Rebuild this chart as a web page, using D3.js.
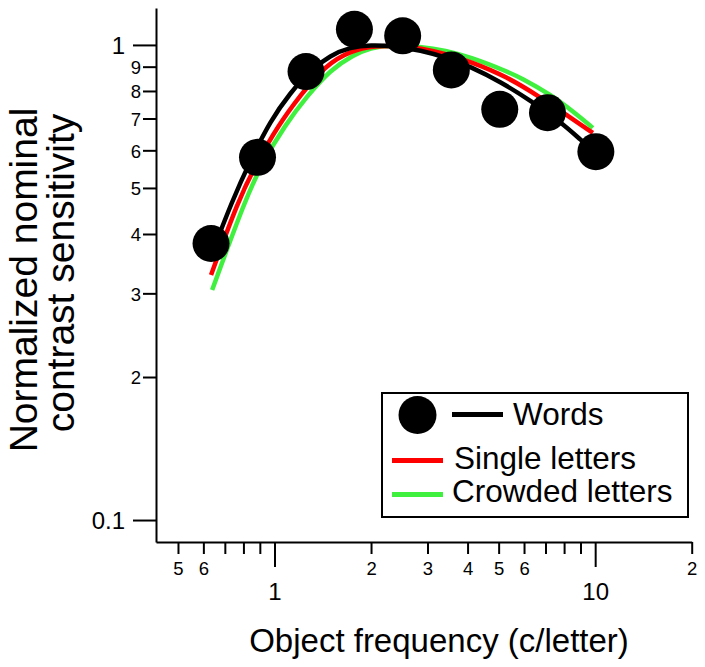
<!DOCTYPE html>
<html>
<head>
<meta charset="utf-8">
<script src="https://cdn.jsdelivr.net/npm/d3@7"></script>
<style>
body { margin: 0; background: #fff; }
text { font-family: "Liberation Sans", Arial, Helvetica, sans-serif; fill: #000; }
</style>
</head>
<body>
<svg id="chart"></svg>
<script>
var wordsX = [0.634, 0.885, 1.254, 1.775, 2.51, 3.56, 5.04, 7.10, 10.05];
var wordsY = [0.382, 0.580, 0.879, 1.079, 1.045, 0.886, 0.732, 0.720, 0.596];

var wordsFitX = [0.634, 0.738, 0.840, 0.970, 1.120, 1.293, 1.493, 1.724, 1.991, 2.384, 2.853, 3.415, 4.089, 5.074, 6.297, 7.813, 9.022, 10.05];
var wordsFitY = [0.360, 0.470, 0.570, 0.692, 0.793, 0.884, 0.951, 0.989, 1.000, 0.994, 0.974, 0.942, 0.900, 0.836, 0.763, 0.688, 0.631, 0.592];

var singleX = [0.634, 0.770, 0.877, 1.027, 1.203, 1.440, 1.724, 2.064, 2.471, 2.853, 3.415, 4.089, 5.298, 6.770, 8.216, 9.835];
var singleY = [0.328, 0.470, 0.562, 0.677, 0.783, 0.905, 0.972, 0.996, 0.996, 0.985, 0.958, 0.922, 0.858, 0.775, 0.709, 0.653];

var crowdedX = [0.639, 0.810, 0.915, 1.080, 1.265, 1.493, 1.762, 1.991, 2.299, 2.853, 3.415, 4.089, 5.298, 5.860, 7.270, 8.580, 9.835];
var crowdedY = [0.305, 0.472, 0.564, 0.679, 0.781, 0.886, 0.953, 0.986, 1.000, 0.992, 0.974, 0.942, 0.880, 0.853, 0.786, 0.722, 0.669];

var yTicks = [0.1, 0.2, 0.3, 0.4, 0.5, 0.6, 0.7, 0.8, 0.9, 1];
var yLabels = ['0.1', '2', '3', '4', '5', '6', '7', '8', '9', '1'];
var xTicks = [0.5, 0.6, 0.7, 0.8, 0.9, 1, 2, 3, 4, 5, 6, 7, 8, 9, 10, 20];
var xLabels = ['5', '6', '', '', '', '1', '2', '3', '4', '5', '6', '', '', '', '10', '2'];
var xMajor = [1, 10];
var yMajor = [0.1, 1];

var legendNames = ['Words', 'Single letters', 'Crowded letters'];
var colors = ['#000000', '#ff0000', '#3ff03f'];

var width = 705, height = 667;

var svg = d3.select('#chart')
    .attr('width', width)
    .attr('height', height);

var x = d3.scaleLog().domain([0.427, 20]).range([156, 691.7]);
var y = d3.scaleLog().domain([0.0899, 1.196]).range([542, 8]);

// x axis
var gx = svg.append('g')
    .attr('transform', 'translate(0,542)')
    .call(d3.axisBottom(x)
        .tickValues(xTicks)
        .tickSize(12)
        .tickSizeOuter(0)
        .tickFormat(function(d, i) { return xLabels[i]; }));
gx.select('.domain').attr('stroke', '#000').attr('stroke-width', 2);
gx.selectAll('.tick line').attr('stroke', '#000').attr('stroke-width', 2)
    .attr('y2', function(d) { return xMajor.includes(d) ? 25 : 12; });
gx.selectAll('.tick text')
    .attr('font-size', function(d) { return xMajor.includes(d) ? 24 : 18.5; })
    .attr('y', function(d) { return xMajor.includes(d) ? 41 : 20; })
    .attr('dy', '0.71em')
    .style('font-family', '"Liberation Sans", Arial, sans-serif');

// y axis
var gy = svg.append('g')
    .attr('transform', 'translate(156,0)')
    .call(d3.axisLeft(y)
        .tickValues(yTicks)
        .tickSize(13)
        .tickSizeOuter(0)
        .tickFormat(function(d, i) { return yLabels[i]; }));
gy.select('.domain').attr('stroke', '#000').attr('stroke-width', 2);
gy.selectAll('.tick line').attr('stroke', '#000').attr('stroke-width', 2)
    .attr('x2', function(d) { return yMajor.includes(d) ? -23 : -13; });
gy.selectAll('.tick text')
    .attr('font-size', function(d) { return yMajor.includes(d) ? 24 : 18.5; })
    .attr('x', function(d) { return yMajor.includes(d) ? -31 : -15; })
    .attr('dy', '0.36em')
    .style('font-family', '"Liberation Sans", Arial, sans-serif');

// axis titles
svg.append('text')
    .attr('x', 439)
    .attr('y', 652)
    .attr('text-anchor', 'middle')
    .attr('font-size', 33)
    .text('Object frequency (c/letter)');

svg.append('text')
    .attr('transform', 'translate(37,280) rotate(-90)')
    .attr('text-anchor', 'middle')
    .attr('font-size', 39)
    .text('Normalized nominal');
svg.append('text')
    .attr('transform', 'translate(74,273) rotate(-90)')
    .attr('text-anchor', 'middle')
    .attr('font-size', 39)
    .text('contrast sensitivity');

// curves
var line = d3.line()
    .x(function(d) { return x(d[0]); })
    .y(function(d) { return y(d[1]); })
    .curve(d3.curveBasis);

var curves = [
    d3.zip(crowdedX, crowdedY),
    d3.zip(singleX, singleY),
    d3.zip(wordsFitX, wordsFitY)
];
var curveColors = [colors[2], colors[1], colors[0]];

svg.selectAll('path.fit')
    .data(curves)
    .enter()
    .append('path')
    .attr('class', 'fit')
    .attr('d', line)
    .attr('fill', 'none')
    .attr('stroke', function(d, i) { return curveColors[i]; })
    .attr('stroke-width', 4.5);

svg.selectAll('circle.word')
    .data(d3.zip(wordsX, wordsY))
    .enter()
    .append('circle')
    .attr('class', 'word')
    .attr('cx', function(d) { return x(d[0]); })
    .attr('cy', function(d) { return y(d[1]); })
    .attr('r', 18.5)
    .attr('fill', '#000');

// legend
var lg = svg.append('g');
lg.append('rect')
    .attr('x', 382).attr('y', 393)
    .attr('width', 306).attr('height', 124)
    .attr('fill', '#fff')
    .attr('stroke', '#000')
    .attr('stroke-width', 2);
lg.append('circle')
    .attr('cx', 417.5).attr('cy', 415).attr('r', 19).attr('fill', '#000');
lg.append('line')
    .attr('x1', 452).attr('x2', 503).attr('y1', 414.5).attr('y2', 414.5)
    .attr('stroke', colors[0]).attr('stroke-width', 5);
lg.append('line')
    .attr('x1', 392).attr('x2', 443).attr('y1', 460.5).attr('y2', 460.5)
    .attr('stroke', colors[1]).attr('stroke-width', 5);
lg.append('line')
    .attr('x1', 392).attr('x2', 443).attr('y1', 494.5).attr('y2', 494.5)
    .attr('stroke', colors[2]).attr('stroke-width', 5);
var legendPos = [[513, 425], [454, 469], [452, 502]];
lg.selectAll('text')
    .data(legendNames)
    .enter()
    .append('text')
    .attr('x', function(d, i) { return legendPos[i][0]; })
    .attr('y', function(d, i) { return legendPos[i][1]; })
    .attr('font-size', 31.5)
    .text(function(d) { return d; });
</script>
</body>
</html>
